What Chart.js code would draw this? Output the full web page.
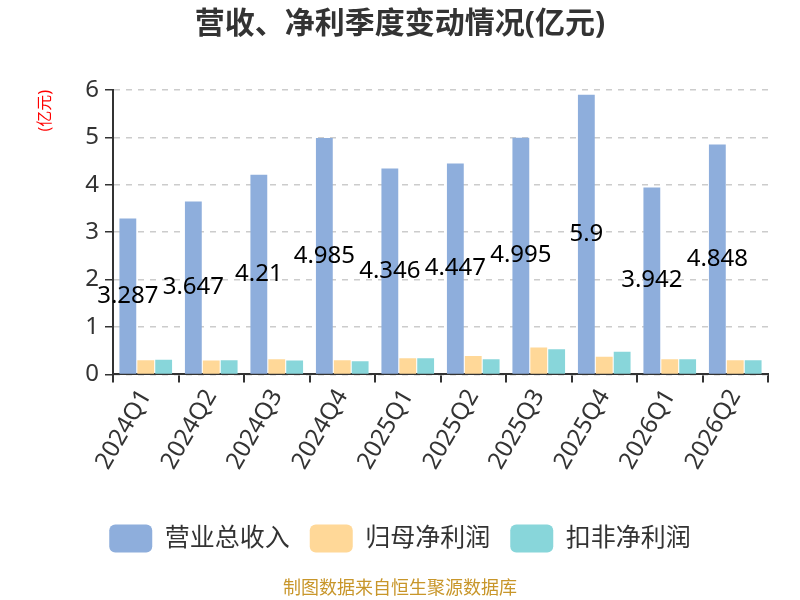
<!DOCTYPE html>
<html lang="zh">
<head>
  <meta charset="UTF-8">
  <title>营收、净利季度变动情况(亿元)</title>
  <script src="https://cdn.jsdelivr.net/npm/chart.js"></script>
  <style>
    body { margin: 0; background: #fff; }
    #wrap { width: 800px; height: 600px; }
  </style>
</head>
<body>
  <div id="wrap"><canvas id="chart"></canvas></div>
  <script>
    // ---------------- data ---------------- //
    const quarters = ['2024Q1', '2024Q2', '2024Q3', '2024Q4', '2025Q1', '2025Q2', '2025Q3', '2025Q4', '2026Q1', '2026Q2'];
    const revenue = [3.287, 3.647, 4.21, 4.985, 4.346, 4.447, 4.995, 5.9, 3.942, 4.848];
    const netProfit = [0.30, 0.295, 0.32, 0.30, 0.34, 0.39, 0.57, 0.37, 0.32, 0.30];
    const deductedProfit = [0.31, 0.30, 0.295, 0.275, 0.34, 0.32, 0.53, 0.48, 0.32, 0.30];
    const yTicks = [0, 1, 2, 3, 4, 5, 6];

    const FONT = '"Noto Sans", "Noto Sans CJK SC", sans-serif';

    // revenue labels drawn in the middle of each blue bar
    const barLabels = {
      id: 'barLabels',
      afterDatasetsDraw(chart) {
        const ctx = chart.ctx;
        const meta = chart.getDatasetMeta(0);
        ctx.save();
        ctx.font = '24px ' + FONT;
        ctx.fillStyle = '#000';
        ctx.textAlign = 'center';
        ctx.textBaseline = 'middle';
        meta.data.forEach((bar, i) => {
          const p = bar.getProps(['x', 'y', 'base'], true);
          ctx.fillText(String(revenue[i]), p.x, (p.y + p.base) / 2);
        });
        ctx.restore();
      }
    };

    const ctx = document.getElementById('chart').getContext('2d');
    new Chart(ctx, {
      type: 'bar',
      data: {
        labels: quarters,
        datasets: [
          { label: '营业总收入', data: revenue, backgroundColor: '#8eaedc' },
          { label: '归母净利润', data: netProfit, backgroundColor: '#ffd898' },
          { label: '扣非净利润', data: deductedProfit, backgroundColor: '#88d6da' }
        ]
      },
      options: {
        responsive: true,
        maintainAspectRatio: false,
        animation: false,
        devicePixelRatio: 1,
        categoryPercentage: 0.82,
        barPercentage: 0.94,
        layout: { padding: { left: 0, right: 0, top: 0, bottom: 0 } },
        scales: {
          x: {
            grid: { offset: true, drawOnChartArea: false, color: '#333', tickLength: 8, lineWidth: 2 },
            border: { color: '#333', width: 2 },
            ticks: {
              color: '#333', font: { size: 24, family: FONT },
              minRotation: 60, maxRotation: 60, padding: 2
            },
            afterFit(scale) { scale.height = 130; }
          },
          y: {
            min: 0, max: 6,
            afterBuildTicks(scale) { scale.ticks = yTicks.map(v => ({ value: v })); },
            grid: { color: '#ccc', lineWidth: 1.5, tickLength: 8, tickColor: '#333' },
            border: { color: '#333', width: 2, dash: [6, 6] },
            ticks: { color: '#333', font: { size: 24, family: FONT }, padding: 6 },
            title: {
              display: true, text: '(亿元)', align: 'end', color: '#ff0000',
              font: { size: 16, family: FONT }, padding: { top: 36, bottom: 0 }
            },
            afterFit(scale) { scale.width = 113; }
          },
          // empty right-hand spacer so the legend and titles stay centred on the page
          spacer: {
            position: 'right', display: true,
            grid: { display: false }, border: { display: false }, ticks: { display: false },
            afterFit(scale) { scale.width = 32; }
          }
        },
        plugins: {
          title: {
            display: true, text: '营收、净利季度变动情况(亿元)', color: '#333',
            font: { size: 30, weight: 'bold', family: FONT },
            padding: { top: 6, bottom: 48 }
          },
          legend: {
            position: 'bottom',
            labels: {
              color: '#333', font: { size: 25, family: FONT },
              boxWidth: 43, boxHeight: 28, useBorderRadius: true, borderRadius: 6, padding: 20
            }
          },
          subtitle: {
            display: true, position: 'bottom', text: '制图数据来自恒生聚源数据库',
            color: '#c8962a', font: { size: 18, family: FONT }, padding: { top: 16, bottom: 0 }
          },
          tooltip: { enabled: false }
        }
      },
      plugins: [barLabels]
    });
  </script>
</body>
</html>
